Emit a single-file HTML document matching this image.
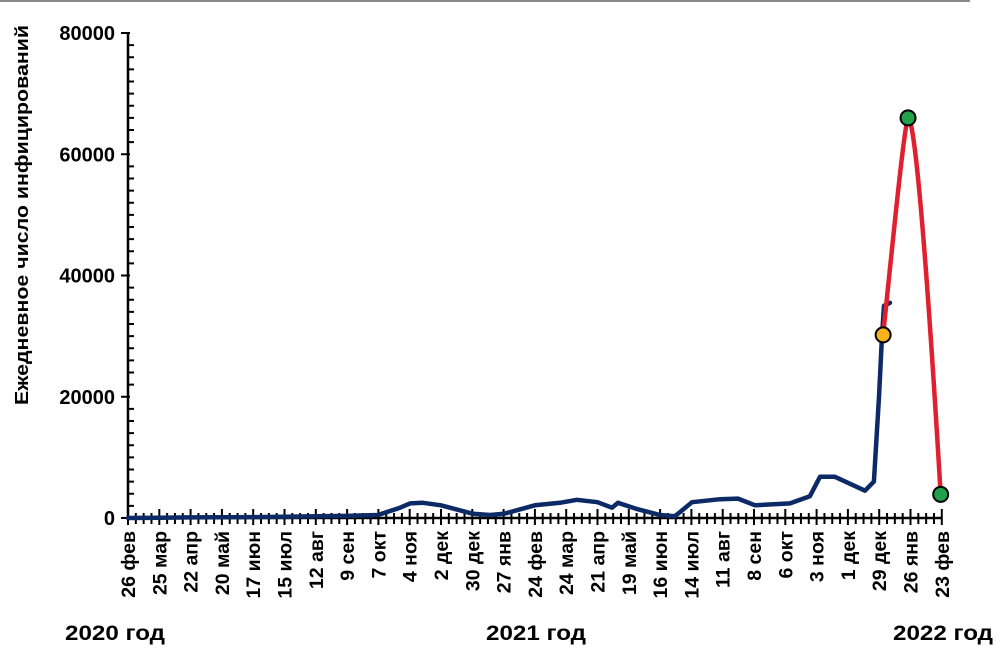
<!DOCTYPE html>
<html><head><meta charset="utf-8"><style>
html,body{margin:0;padding:0;background:#fff;}
svg{display:block;font-family:"Liberation Sans",sans-serif;font-weight:bold;}
</style></head><body>
<svg id="chart" width="1005" height="664" viewBox="0 0 1005 664" xmlns="http://www.w3.org/2000/svg">
<line x1="0" y1="1" x2="970" y2="1" stroke="#888" stroke-width="2"/>
<g id="axes"></g>
<text transform="translate(28,215) rotate(-90)" text-anchor="middle" font-size="18.5" textLength="380" lengthAdjust="spacingAndGlyphs">Ежедневное число инфицирований</text>
<text x="65" y="640" font-size="21" textLength="100" lengthAdjust="spacingAndGlyphs">2020 год</text>
<text x="486" y="640" font-size="21" textLength="100" lengthAdjust="spacingAndGlyphs">2021 год</text>
<text x="893" y="640" font-size="21" textLength="100" lengthAdjust="spacingAndGlyphs">2022 год</text>
<g id="plot"></g>
</svg>
<script>
// Data
const xTickLabels = ["26 фев","25 мар","22 апр","20 май","17 июн","15 июл","12 авг","9 сен","7 окт","4 ноя","2 дек","30 дек","27 янв","24 фев","24 мар","21 апр","19 май","16 июн","14 июл","11 авг","8 сен","6 окт","3 ноя","1 дек","29 дек","26 янв","23 фев"];
const yTickValues = [0,20000,40000,60000,80000];
// days since 26 Feb 2020
const blueDays = [0,28,56,84,112,140,168,196,223.6,243.3,252.3,263.9,280,308.6,323.8,336.3,364,386.4,401.6,420,433,438.3,455,475.9,489.3,504.5,529.6,545.7,560.9,592.2,610,619,632.4,659.3,667.3,671.8,674.5,676.3,681.7];
const blueVals = [0,50,100,120,150,200,300,350,500,1700,2400,2500,2100,700,500,700,2100,2500,3000,2600,1700,2500,1500,500,300,2600,3100,3200,2100,2400,3600,6800,6800,4500,6000,20000,30000,35000,35500];
const redDays = [675.5,697.8,727];
const redVals = [30200,66000,3900];

const X0=128, PX_PER_DAY=31.3/28, Y0=518, PX_PER_UNIT=485/80000;
const xs = d => X0 + d*PX_PER_DAY;
const ys = v => Y0 - v*PX_PER_UNIT;
const NS="http://www.w3.org/2000/svg";
const axes=document.getElementById('axes'), plot=document.getElementById('plot');
function mk(tag,attrs,parent){const e=document.createElementNS(NS,tag);for(const k in attrs)e.setAttribute(k,attrs[k]);parent.appendChild(e);return e;}

let e=mk('line',{x1:X0,y1:ys(80000),x2:X0,y2:Y0,stroke:'#000','stroke-width':2.5},axes);


for(let v=0;v<=80000;v+=2000){
  const major=v%20000===0;
  e=mk('line',{x1:major?X0-7:X0,y1:ys(v),x2:X0+(major?2:6),y2:ys(v),stroke:'#000','stroke-width':2},axes);
  
  
}
yTickValues.forEach(v=>{
  const t=mk('text',{x:X0-13,y:ys(v)+7,'text-anchor':'end','font-size':20},axes);
  t.textContent=String(v);
  
  
});
const lastDay=(xTickLabels.length-1)*28;
e=mk('line',{x1:X0,y1:Y0,x2:xs(lastDay),y2:Y0,stroke:'#000','stroke-width':2.5},axes);


for(let d=0;d<=lastDay;d+=7){
  const major=d%28===0;
  e=mk('line',{x1:xs(d),y1:major?Y0-9:Y0-5,x2:xs(d),y2:Y0+(major?7:6),stroke:'#000','stroke-width':2},axes);
  
  
}
xTickLabels.forEach((lab,i)=>{
  const x=xs(i*28)+7;
  const t=mk('text',{transform:`translate(${x},531) rotate(-90)`,'text-anchor':'end','font-size':19.5},axes);
  t.textContent=lab;
  
  
});
let dPath=blueDays.map((d,i)=>(i?'L':'M')+xs(d).toFixed(1)+','+ys(blueVals[i]).toFixed(1)).join(' ');
e=mk('path',{d:dPath,fill:'none',stroke:'#0c2a66','stroke-width':4.5,'stroke-linejoin':'round','stroke-linecap':'round'},plot);


// red forecast curve: near-straight rise, rounded peak, curved fall
const P=redDays.map((d,i)=>[xs(d),ys(redVals[i])]);
const [A,B,C]=P;
const rd=`M${A[0]},${A[1]} C${A[0]+(B[0]-A[0])*0.45},${A[1]+(B[1]-A[1])*0.5} ${B[0]-4},${B[1]+10} ${B[0]},${B[1]} C${B[0]+5},${B[1]} ${B[0]+(C[0]-B[0])*0.45},${B[1]+(C[1]-B[1])*0.2} ${C[0]},${C[1]}`;
e=mk('path',{d:rd,fill:'none',stroke:'#e0202e','stroke-width':4.5,'stroke-linecap':'round'},plot);


const colors=['#f5b21c','#22a04a','#22a04a'];
const names=['forecast-start-point','forecast-peak-point','forecast-end-point'];
redDays.forEach((d,i)=>{
  const m=mk('circle',{cx:xs(d),cy:ys(redVals[i]),r:7.5,fill:colors[i],stroke:'#000','stroke-width':2},plot);
  
  
});
</script>
</body></html>
